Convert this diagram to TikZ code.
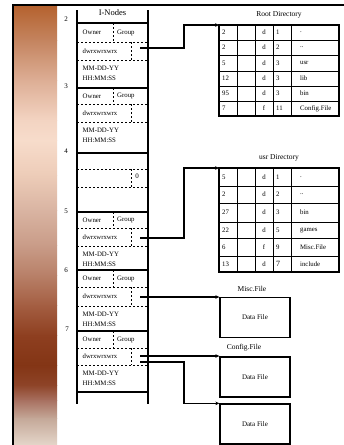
\documentclass[tikz,border=0pt]{standalone}
\usepackage{fontspec}
\setmainfont{Liberation Serif}
\usetikzlibrary{arrows.meta}
\definecolor{g01}{HTML}{B5622F}
\definecolor{g02}{HTML}{C4845F}
\definecolor{g03}{HTML}{DDAE95}
\definecolor{g04}{HTML}{F3D4C2}
\definecolor{g05}{HTML}{F7DCCB}
\definecolor{g06}{HTML}{EDCCB8}
\definecolor{g07}{HTML}{D9B4A2}
\definecolor{g08}{HTML}{C99C88}
\definecolor{g09}{HTML}{B88068}
\definecolor{g10}{HTML}{A45E42}
\definecolor{g11}{HTML}{8E3F20}
\definecolor{g12}{HTML}{833515}
\definecolor{g13}{HTML}{8E4428}
\definecolor{g14}{HTML}{A87060}
\definecolor{g15}{HTML}{C4A898}
\definecolor{g16}{HTML}{E6D8CC}
\newcommand\myfs[1]{\fontsize{#1}{#1}\selectfont}
\begin{document}
\begin{tikzpicture}[x=1pt,y=-1pt,
  frame/.style={line width=2.2pt},
  iv/.style={line width=1.3pt},
  isep/.style={line width=1.2pt},
  idash/.style={line width=0.6pt, dash pattern=on 2.4pt off 1.6pt},
  tout/.style={line width=1.3pt},
  tin/.style={line width=0.9pt},
  conn/.style={line width=1.1pt,-{Stealth[length=4pt,width=3.6pt]}},
  lbl/.style={inner sep=0pt, anchor=west, font=\myfs{6.8}},
  dwr/.style={inner sep=0pt, anchor=west, font=\myfs{6.7}},
  num/.style={inner sep=0pt, font=\myfs{7}},
  ttl/.style={inner sep=0pt, font=\myfs{7.5}},
  tcell/.style={inner sep=0pt, anchor=west, font=\myfs{6.8}},
  ccell/.style={inner sep=0pt, font=\myfs{6.8}},
  dbox/.style={draw, line width=1.3pt, minimum width=70pt, minimum height=40pt, inner sep=0pt, font=\myfs{7}}
]
\useasboundingbox (0,0) rectangle (344,445);
\fill[white] (0,0) rectangle (344,445);
% gradient strip
\foreach \ya/\ca/\yb/\cb in {6/g01/40/g02, 40/g02/80/g03, 80/g03/120/g04, 120/g04/140/g05, 140/g05/175/g06, 175/g06/210/g07, 210/g07/245/g08, 245/g08/275/g09, 275/g09/305/g10, 305/g10/335/g11, 335/g11/365/g12, 365/g12/385/g13, 385/g13/400/g14, 400/g14/418/g15, 418/g15/446/g16}
  \fill[top color=\ca, bottom color=\cb] (14,\ya) rectangle (57,\yb+0.6);
% frame
\draw[frame] (12.5,5) -- (344,5);
\draw[frame] (13.2,4) -- (13.2,445);
% I-node column
\draw[iv] (77,10) -- (77,404);
\draw[iv] (148,10) -- (148,404);
\node[inner sep=0pt, font=\myfs{8.5}] (ihead) at (112.5,13) {I-Nodes};
\draw[isep] (77,23) -- (148,23);
\foreach \n/\t/\a/\b/\e in {2/23/42/60/88, 3/88/104/122/153, 5/212/228/246/270, 6/270/287/306/331, 7/331/348/365/392}{
  \draw[isep] (77,\e) -- (148,\e);
  \draw[idash] (77,\a) -- (148,\a) (77,\b) -- (148,\b) (113,\t) -- (113,\a) (131,\a) -- (131,\b);
  \node[lbl] (own\n) at (82.5,{(\t+\a)/2}) {Owner};
  \node[lbl] (grp\n) at (117,{(\t+\a)/2}) {Group};
  \node[dwr] (prm\n) at (82.5,{(\a+\b)/2}) {dwrxwrxwrx};
  \node[lbl] (dat\n) at (82.5,\b+8.5) {MM-DD-YY};
  \node[lbl] (tim\n) at (82.5,\b+18) {HH:MM:SS};
}
% empty inode 4
\draw[isep] (77,212) -- (148,212);
\draw[idash] (77,169) -- (148,169) (77,187) -- (148,187) (131,169) -- (131,187);
\node[num] (zero) at (137,176) {0};
% inode numbers
\node[num] (n2) at (66,19) {2};
\node[num] (n3) at (66,86) {3};
\node[num] (n4) at (66,151) {4};
\node[num] (n5) at (66,211) {5};
\node[num] (n6) at (66,270) {6};
\node[num] (n7) at (67,329) {7};
% Root directory table
\node[ttl] (roott) at (279,15) {Root Directory};
\coordinate (rootTL) at (219,25);
\draw[tout] (219,25) rectangle (339,116);
\foreach \y in {40,55,71,86,101} \draw[tin] (219,\y) -- (339,\y);
\foreach \x in {237,255,273,291} \draw[tin] (\x,25) -- (\x,116);
\foreach \y/\a/\b/\c/\d [count=\i] in {32.5/2/d/1/., 47.5/2/d/2/.., 63/5/d/3/usr, 78.5/12/d/3/lib, 93.5/95/d/3/bin, 108.5/7/f/11/Config.File}{
  \node[tcell] (ra\i) at (222,\y) {\a};
  \node[ccell] (rb\i) at (264,\y) {\b};
  \node[tcell] (rc\i) at (276,\y) {\c};
  \node[tcell] (rd\i) at (300,\y) {\d};
}
% usr directory table
\node[ttl] (usrt) at (279,158) {usr Directory};
\coordinate (usrTL) at (219,168);
\draw[tout] (219,168) rectangle (339,272);
\foreach \y in {186,203,222,238,256} \draw[tin] (219,\y) -- (339,\y);
\foreach \x in {237,255,273,291} \draw[tin] (\x,168) -- (\x,272);
\foreach \y/\a/\b/\c/\d [count=\i] in {177/5/d/1/., 194.5/2/d/2/.., 212.5/27/d/3/bin, 230/22/d/5/games, 247/6/f/9/Misc.File}{
  \node[tcell] (ua\i) at (222,\y) {\a};
  \node[ccell] (ub\i) at (264,\y) {\b};
  \node[tcell] (uc\i) at (276,\y) {\c};
  \node[tcell] (ud\i) at (300,\y) {\d};
}
\node[tcell] (ua6) at (222,264) {13};
\node[ccell] (ub6) at (264,264) {d};
\node[tcell, font=\myfs{8}] (uc6) at (276,264) {7};
\node[tcell] (ud6) at (300,264) {include};
% data files
\node[ttl] (misct) at (252,289) {Misc.File};
\node[dbox] (misc) at (255,317.5) {Data File};
\node[ttl] (cfgt) at (244,348) {Config.File};
\node[dbox] (cfg) at (255,377) {Data File};
\node[dbox] (cfg2) at (255,424) {Data File};
% connectors
\coordinate (s2) at (140,48);
\coordinate (s5) at (140,238);
\coordinate (s6) at (140,297);
\coordinate (s7a) at (140,356);
\coordinate (s7b) at (140,362);
\draw[conn] (s2) -- (184,48) |- (rootTL);
\draw[conn] (s5) -- (184,238) |- (usrTL);
\draw[conn] (s6) -- (s6 -| misc.west);
\draw[conn] (s7a) -- (s7a -| cfg.west);
\draw[conn] (s7b) -- (184,362) |- (cfg2.north west);
\end{tikzpicture}
\end{document}
